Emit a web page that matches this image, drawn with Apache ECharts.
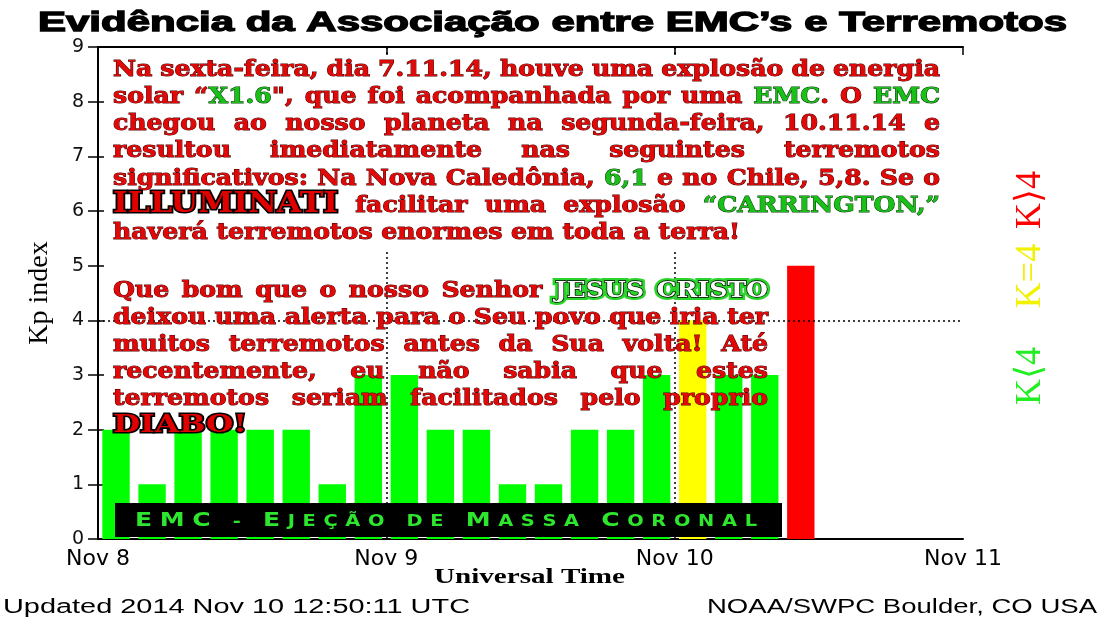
<!DOCTYPE html>
<html><head><meta charset="utf-8">
<script src="https://cdn.jsdelivr.net/npm/echarts@6.0.0/dist/echarts.min.js"></script>
<style>html,body{margin:0;padding:0;background:#fff;}#chart{width:1100px;height:620px;}</style>
</head><body><div id="chart"></div>
<script>
// ---------------- data ----------------
const timeSlots = ['08 00h','08 03h','08 06h','08 09h','08 12h','08 15h','08 18h','08 21h',
                   '09 00h','09 03h','09 06h','09 09h','09 12h','09 15h','09 18h','09 21h',
                   '10 00h','10 03h','10 06h','10 09h','10 12h','10 15h','10 18h','10 21h'];
const kpValues = [2,1,2,2,2,2,1,3, 3,2,2,1,1,2,2,3, 4,3,3,5, null,null,null,null];
const dayLabels = ['Nov 8','Nov 9','Nov 10','Nov 11'];
const kpRefLine = 4;
const titleText = 'Evidência da Associação entre EMC’s e Terremotos';
const yAxisName = 'Kp index';
const xAxisName = 'Universal Time';
const updatedText = 'Updated 2014 Nov 10 12:50:11 UTC';
const sourceText = 'NOAA/SWPC Boulder, CO USA';
const block1 = [
  'Na sexta-feira, dia 7.11.14, houve uma explosão de energia',
  'solar “{g|X1.6}", que foi acompanhada por uma {g|EMC}.  O {g|EMC}',
  'chegou ao nosso planeta na segunda-feira, 10.11.14 e',
  'resultou imediatamente nas seguintes terremotos',
  'significativos:  Na Nova Caledônia, {g|6,1} e no Chile, 5,8.  Se o',
  '{ill|ILLUMINATI} facilitar uma explosão {g|“CARRINGTON,”}',
  'haverá terremotos enormes em toda a terra!'
];
const block2 = [
  'Que bom que o nosso Senhor {jesus|JESUS} {jesus|CRISTO}',
  'deixou uma alerta para o Seu povo que iria ter',
  'muitos terremotos antes da Sua volta!  Até',
  'recentemente, eu não sabia que estes',
  'terremotos seriam facilitados pelo proprio',
  '{diabo|DIABO!}'
];
const bannerParts = [['EMC','B'],[' - ','s'],['E','B'],['JEÇÃO DE ','s'],['M','B'],['ASSA ','s'],['C','B'],['ORONAL','s']];
const legendItems = [['K⟩4','#ff0000'],['K=4','#f2f200'],['K⟨4','#22ee22']];

// ---------------- layout helpers ----------------
const ctx = document.createElement('canvas').getContext('2d');
function tw(t, f){ ctx.font = f; return ctx.measureText(t).width; }
const SERIF = '"DejaVu Serif", "Liberation Serif", serif';
const ST = {
  r:     {size:22.5, fill:'#e20808', stroke:'#4a0000', lw:1},
  g:     {size:22.5, fill:'#18c018', stroke:'#053805', lw:1},
  ill:   {size:27, fill:'#e00000', stroke:'#000', lw:3.2, fitText:'ILLUMINATI', fitW:225},
  diabo: {size:25, fill:'#e00000', stroke:'#000', lw:3.2, fitText:'DIABO!', fitW:134},
  jesus: {size:22.5, fill:'#ffffff', stroke:'#000', lw:1.3, glow:'#2ad42a'}
};
function font(st){ return 'bold ' + st.size + 'px ' + SERIF; }
const bodyScale = 627 / tw(block1[block1.length-1], font(ST.r));
for (const k in ST){ const s = ST[k]; s.scale = s.fitText ? s.fitW / tw(s.fitText, font(s)) : bodyScale; }

function parseWord(w){
  const pieces = []; const re = /\{(\w+)\|([^}]*)\}/g; let last = 0, m;
  while ((m = re.exec(w))) {
    if (m.index > last) pieces.push({t:w.slice(last, m.index), s:'r'});
    pieces.push({t:m[2], s:m[1]}); last = re.lastIndex;
  }
  if (last < w.length) pieces.push({t:w.slice(last), s:'r'});
  pieces.forEach(p => p.w = tw(p.t, font(ST[p.s])) * ST[p.s].scale);
  return pieces;
}
const els = [];
function mk(t, x, y, st, sx, z, over){
  return {type:'text', x:x, y:y, scaleX:sx, z:z, silent:true,
    style:Object.assign({text:t, font:font(st), fill:st.fill, stroke:st.stroke, lineWidth:st.lw,
      textAlign:'left', textVerticalAlign:'middle'}, over || {})};
}
function layoutBlock(lines, baselines, L, R){
  const space = tw(' ', font(ST.r)) * bodyScale;
  lines.forEach((line, i) => {
    const words = line.trim().split(/\s+/).map(parseWord);
    const ww = words.map(ps => ps.reduce((a, p) => a + p.w, 0));
    const sum = ww.reduce((a, b) => a + b, 0);
    const isLast = i === lines.length - 1;
    let gap = space, k = 1;
    if (!isLast && words.length > 1) {
      gap = (R - L - sum) / (words.length - 1);
      const minGap = space * 0.6;
      if (gap < minGap) { gap = minGap; k = (R - L - minGap * (words.length - 1)) / sum; }
    }
    let x = L; const base = baselines[i];
    words.forEach(ps => {
      ps.forEach(p => {
        const st = ST[p.s];
        const y = base - 0.35 * st.size;
        if (st.glow) els.push(mk(p.t, x, y, st, st.scale * k, 100, {fill:st.glow, stroke:st.glow, lineWidth:6}));
        els.push(mk(p.t, x, y, st, st.scale * k, 101));
        x += p.w * k;
      });
      x += gap;
    });
  });
}

// white backing of the first text block
els.push({type:'rect', z:90, silent:true, shape:{x:104, y:56, width:846, height:194}, style:{fill:'#fff'}});
layoutBlock(block1, [78, 105.5, 132.5, 159.5, 187, 214.5, 241.5], 113, 940);
layoutBlock(block2, [299, 326.5, 353, 380.5, 407.5, 434.5], 113, 768);

// banner
els.push({type:'rect', z:95, silent:true, shape:{x:115, y:503, width:667, height:34}, style:{fill:'#000'}});
(function(){
  const fB = 'bold 20px "DejaVu Sans"', fS = 'bold 15.5px "DejaVu Sans"', sc = 1.25;
  const chars = [];
  bannerParts.forEach(([t, k]) => { for (const ch of t) chars.push({ch, f:k === 'B' ? fB : fS, size:k === 'B' ? 20 : 15.5}); });
  const W = chars.reduce((a, c) => a + tw(c.ch, c.f) * sc, 0);
  const g = (622 - W) / (chars.length - 1);
  let x = 135;
  chars.forEach(c => {
    els.push({type:'text', x:x, y:527.5 - 0.35 * c.size, scaleX:sc, z:101, silent:true,
      style:{text:c.ch, font:c.f, fill:'#2ee62e', textAlign:'left', textVerticalAlign:'middle'}});
    x += tw(c.ch, c.f) * sc + g;
  });
})();

// title
(function(){
  const f = 'bold 27px "Liberation Sans", Arial, sans-serif';
  els.push({type:'text', x:38, y:23.5, scaleX:1029 / tw(titleText, f), z:101, silent:true,
    style:{text:titleText, font:f, fill:'#000', stroke:'#000', lineWidth:1.3, textAlign:'left', textVerticalAlign:'middle'}});
})();

// legend at right (rotated)
const legendY = [200, 276, 376];
legendItems.forEach(([t, c], i) => {
  els.push({type:'text', x:1031, y:legendY[i], rotation:Math.PI / 2, z:101, silent:true,
    style:{text:t, font:'36px "Liberation Serif", "DejaVu Serif", serif', fill:c, textAlign:'center', textVerticalAlign:'middle'}});
});

// bottom texts
(function(){
  const fU = 'bold 20px "Liberation Serif", serif';
  els.push({type:'text', x:434, y:578, scaleX:191 / tw(xAxisName, fU), z:101, silent:true,
    style:{text:xAxisName, font:fU, fill:'#000', textAlign:'left', textVerticalAlign:'middle'}});
  const fB = '20px "Liberation Sans", sans-serif';
  els.push({type:'text', x:3, y:607, scaleX:467 / tw(updatedText, fB), z:101, silent:true,
    style:{text:updatedText, font:fB, fill:'#000', textAlign:'left', textVerticalAlign:'middle'}});
  const sS = 390 / tw(sourceText, fB);
  els.push({type:'text', x:707, y:607, scaleX:sS, z:101, silent:true,
    style:{text:sourceText, font:fB, fill:'#000', textAlign:'left', textVerticalAlign:'middle'}});
})();

// ---------------- chart ----------------
function kpColor(v){ return v > kpRefLine ? '#ff0000' : (v === kpRefLine ? '#ffff00' : '#00ff00'); }
const chart = echarts.init(document.getElementById('chart'), null, {renderer:'canvas'});
const axisLineStyle = {color:'#000', width:2};
chart.setOption({
  animation:false,
  backgroundColor:'#fff',
  grid:{left:98, right:137, top:47, bottom:81},
  xAxis:[
    {type:'category', data:timeSlots, show:false, boundaryGap:true, position:'bottom'},
    {type:'value', min:0, max:3, interval:1, position:'bottom',
      axisLine:{show:true, lineStyle:axisLineStyle}, axisTick:{show:false},
      splitLine:{show:false},
      axisLabel:{formatter:v => dayLabels[v], fontFamily:'DejaVu Sans', fontSize:22, color:'#000', margin:9}},
    {type:'value', min:0, max:3, interval:1, position:'top',
      axisLine:{show:true, lineStyle:axisLineStyle}, axisTick:{show:true, inside:true, length:8, lineStyle:{color:'#000', width:1.5}},
      splitLine:{show:false}, axisLabel:{show:false}}
  ],
  yAxis:[
    {type:'value', min:0, max:9, interval:1, position:'left',
      name:yAxisName, nameLocation:'middle', nameGap:44,
      nameTextStyle:{fontFamily:'Liberation Serif', fontSize:28, color:'#000'},
      axisLine:{show:true, lineStyle:axisLineStyle},
      axisTick:{show:true, inside:true, length:6, lineStyle:{color:'#000', width:1.5}},
      splitLine:{show:false},
      axisLabel:{fontFamily:'DejaVu Sans', fontSize:19, color:'#111', margin:14}},
    {type:'value', min:0, max:9, interval:1, position:'right',
      axisLine:{show:true, lineStyle:axisLineStyle},
      axisTick:{show:true, inside:true, length:10, lineStyle:{color:'#000', width:1.5}},
      splitLine:{show:false}, axisLabel:{show:false}}
  ],
  series:[
    {type:'line', xAxisIndex:1, yAxisIndex:0, data:[], z:1, silent:true,
      markLine:{silent:true, symbol:['none','none'], label:{show:false},
        lineStyle:{type:[2,3], color:'#000', width:1.5},
        data:[{xAxis:1},{xAxis:2},{yAxis:kpRefLine}]}},
    {type:'bar', xAxisIndex:0, yAxisIndex:0, z:2, barWidth:'76%', silent:true,
      data:kpValues.map(v => v === null ? null : {value:v, itemStyle:{color:kpColor(v)}})}
  ],
  graphic:els
});
</script></body></html>
